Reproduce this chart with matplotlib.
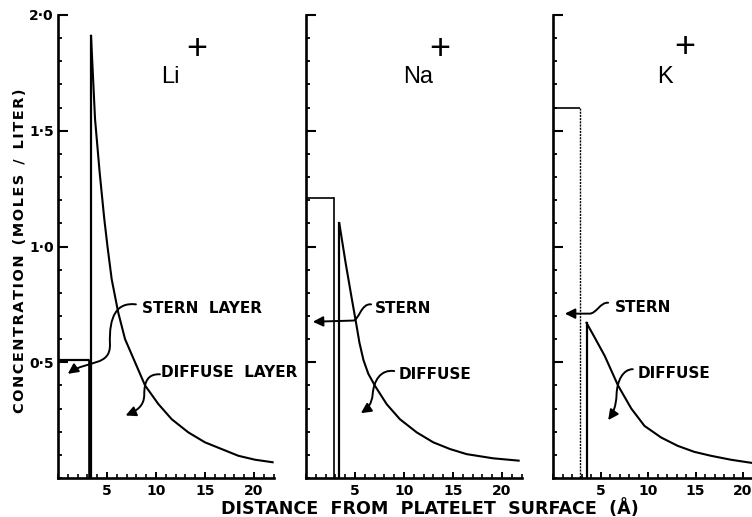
import matplotlib
matplotlib.use("Agg")
import matplotlib.pyplot as plt
from matplotlib.path import Path
from matplotlib.patches import FancyArrowPatch
from matplotlib.ticker import MultipleLocator, FixedLocator

# ---- data -------------------------------------------------------------
ions = ["Li", "Na", "K"]

# Stern layer: uniform concentration out to the layer thickness
stern_conc = [0.51, 1.21, 1.60]
stern_width = [3.13, 2.89, 2.85]

# Diffuse layer concentration profiles
li_x = [3.37, 3.78, 4.25, 4.72, 5.05, 5.48, 6.15, 6.84, 7.86, 8.88, 10.23, 11.6,
        13.3, 15.0, 16.7, 18.4, 20.1, 21.9]
li_y = [1.91, 1.55, 1.32, 1.12, 1.0, 0.858, 0.714, 0.60, 0.50, 0.40, 0.32, 0.254,
        0.197, 0.154, 0.125, 0.096, 0.079, 0.068]

na_x = [3.4, 4.04, 4.65, 5.15, 5.45, 5.86, 6.36, 7.04, 8.23, 9.58, 11.3, 12.99,
        14.7, 16.4, 19.1, 21.7]
na_y = [1.10, 0.93, 0.78, 0.66, 0.585, 0.51, 0.45, 0.398, 0.319, 0.254, 0.197, 0.154,
        0.125, 0.103, 0.085, 0.075]

k_x = [3.53, 4.4, 5.45, 6.84, 8.24, 9.63, 11.38, 13.12, 14.87, 16.62, 18.71, 20.8, 21.7]
k_y = [0.67, 0.606, 0.527, 0.40, 0.30, 0.225, 0.175, 0.139, 0.113, 0.096, 0.079, 0.066, 0.062]

y_ticks = [0.5, 1.0, 1.5, 2.0]
y_tick_labels = ["0·5", "1·0", "1·5", "2·0"]
x_ticks = [5, 10, 15, 20]
x_tick_labels = ["5", "10", "15", "20"]

stern_labels = ["STERN  LAYER", "STERN", "STERN"]
diffuse_labels = ["DIFFUSE  LAYER", "DIFFUSE", "DIFFUSE"]

x_label = "DISTANCE  FROM  PLATELET  SURFACE  (Å)"
y_label = "CONCENTRATION  (MOLES / LITER)"

profiles = [(li_x, li_y), (na_x, na_y), (k_x, k_y)]

# ---- layout -----------------------------------------------------------
W, H = 752, 517
fig = plt.figure(figsize=(W / 100, H / 100), dpi=100)
fig.patch.set_facecolor("white")


def fx(px):
    return px / W


def fy(py):
    return 1 - py / H


def hair_spaced(text):
    # slightly open letter spacing, like stencil lettering
    return "  ".join("\u200a".join(word) for word in text.split())


def fit(txt, target_px, vertical=False):
    renderer = fig.canvas.get_renderer()
    bb = txt.get_window_extent(renderer)
    size = bb.height if vertical else bb.width
    txt.set_fontsize(txt.get_fontsize() * target_px / size)


X_MAX = 22.0
panel_left = [58, 306, 553]
px_per_unit = [9.8, 9.8, 9.5]
y_top, y_bot = 15, 478

BOLD = dict(family="DejaVu Sans", weight="bold", color="black")

C4, MV, LT = Path.CURVE4, Path.MOVETO, Path.LINETO
# annotation paths (data units of each panel)
stern_paths = [
    ([(7.95, 0.75), (6.0, 0.76), (5.2, 0.70), (5.3, 0.58),
      (5.4, 0.48), (3.0, 0.51), (1.0, 0.45)],
     [MV, C4, C4, C4, C4, C4, C4]),
    ([(6.64, 0.75), (5.6, 0.755), (5.4, 0.68), (4.8, 0.68), (0.7, 0.675)],
     [MV, C4, C4, C4, LT]),
    ([(5.8, 0.757), (4.98, 0.76), (4.57, 0.71), (3.84, 0.71), (1.25, 0.71)],
     [MV, C4, C4, C4, LT]),
]
diffuse_paths = [
    ([(10.4, 0.448), (9.2, 0.45), (8.8, 0.42), (8.8, 0.36),
      (8.8, 0.31), (8.0, 0.29), (6.9, 0.27)],
     [MV, C4, C4, C4, C4, C4, C4]),
    ([(9.0, 0.462), (7.6, 0.47), (6.9, 0.42), (6.8, 0.36),
      (6.7, 0.32), (6.3, 0.30), (5.6, 0.28)],
     [MV, C4, C4, C4, C4, C4, C4]),
    ([(8.4, 0.47), (7.37, 0.47), (6.74, 0.42), (6.69, 0.36),
      (6.64, 0.31), (6.33, 0.28), (5.81, 0.25)],
     [MV, C4, C4, C4, C4, C4, C4]),
]
stern_text_pos = [(8.6, 0.733), (7.0, 0.733), (6.54, 0.737)]
diffuse_text_pos = [(10.5, 0.455), (9.5, 0.448), (8.92, 0.453)]

# ion symbol placement in pixels: (left of symbol, baseline, plus centre x, plus centre y)
ion_px = [(161, 83, 197, 50), (403, 83, 440, 49), (657, 83, 685, 48)]

for i, ion in enumerate(ions):
    width_px = X_MAX * px_per_unit[i]
    ax = fig.add_axes([fx(panel_left[i]), fy(y_bot), fx(width_px), (y_bot - y_top) / H])
    ax.set_xlim(0, X_MAX)
    ax.set_ylim(0, 2.0)
    for side in ("top", "right"):
        ax.spines[side].set_visible(False)
    for side in ("left", "bottom"):
        ax.spines[side].set_linewidth(1.9)

    ax.yaxis.set_major_locator(FixedLocator(y_ticks))
    ax.yaxis.set_minor_locator(MultipleLocator(0.1))
    ax.xaxis.set_major_locator(FixedLocator(x_ticks))
    ax.xaxis.set_minor_locator(MultipleLocator(1))
    ax.tick_params(axis="y", which="major", direction="in", length=7, width=1.5, pad=3)
    ax.tick_params(axis="y", which="minor", direction="in", length=3, width=1.3)
    ax.tick_params(axis="x", which="major", direction="in", length=4.3, width=1.4, pad=4)
    ax.tick_params(axis="x", which="minor", direction="in", length=2.7, width=1.2)
    ax.set_xticklabels(x_tick_labels, fontsize=10, **BOLD)
    if i == 0:
        ax.set_yticklabels(y_tick_labels, fontsize=10, **BOLD)
    else:
        ax.set_yticklabels([])

    # Stern layer step
    w, c = stern_width[i], stern_conc[i]
    ax.plot([0, w], [c, c], color="black", lw=1.6 if i == 0 else 1.2,
            solid_capstyle="butt")
    ax.plot([w, w], [c, 0], color="black",
            lw=1.0 if i == 2 else 1.2,
            ls=(0, (1.5, 0.8)) if i == 2 else "-")

    # Diffuse layer: rise at the outer Helmholtz plane, then decay
    xs, ys = profiles[i]
    ax.plot([xs[0], xs[0]], [0, ys[0]], color="black", lw=1.6)
    ax.plot(xs, ys, color="black", lw=1.5, solid_joinstyle="round")
    if i == 0:
        ax.fill_betweenx([0, c], w, xs[0], color="black", lw=0)

    # labels with curved pointer arrows
    for verts_codes, txt, pos in ((stern_paths[i], stern_labels[i], stern_text_pos[i]),
                                  (diffuse_paths[i], diffuse_labels[i], diffuse_text_pos[i])):
        verts, codes = verts_codes
        arr = FancyArrowPatch(path=Path(verts, codes),
                              arrowstyle="-|>,head_length=0.6,head_width=0.3",
                              mutation_scale=10, lw=1.4, color="black",
                              shrinkA=0, shrinkB=0, clip_on=False)
        ax.add_patch(arr)
        ax.text(pos[0], pos[1], txt, fontsize=11, ha="left", va="center",
                clip_on=False, **BOLD)

    # ion symbol
    lx, base, plx, ply = ion_px[i]
    fig.text(fx(lx), fy(base), ion, fontsize=17, family="Liberation Sans",
             ha="left", va="baseline", color="black")
    fig.text(fx(plx), fy(ply), "+", fontsize=26, family="Liberation Sans",
             ha="center", va="center", color="black")

xl = fig.text(fx(430), fy(509), x_label, fontsize=12, ha="center",
              va="center", **BOLD)
fit(xl, 415)
yl = fig.text(fx(20), fy(251), hair_spaced(y_label), fontsize=10,
              rotation=90, ha="center", va="center", **BOLD)
fit(yl, 323, vertical=True)

fig.savefig("out.png", dpi=100, facecolor="white")
